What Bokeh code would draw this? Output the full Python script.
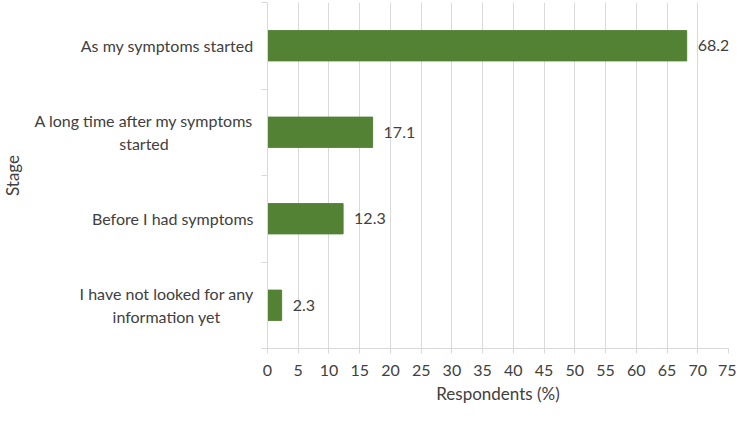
import math
from bokeh.plotting import figure
from bokeh.layouts import row
from bokeh.models import ColumnDataSource, FixedTicker, Range1d, LabelSet, Label
from bokeh.core.properties import value
from bokeh.embed import file_html
from bokeh.resources import INLINE

categories = ["As my symptoms started",
              "A long time after my symptoms\nstarted",
              "Before I had symptoms",
              "I have not looked for any\ninformation yet"]
values = [68.2, 17.1, 12.3, 2.3]
x_ticks = list(range(0, 80, 5))
x_title = "Respondents (%)"
y_title = "Stage"

n = len(categories)
ypos = [n - i - 0.5 for i in range(n)]
src = ColumnDataSource(dict(y=ypos, v=values, lab=[f"{v:.1f}" for v in values]))

FONT = "Lato"
TXT = "#404040"
GRID = "#d9d9d9"
FS = "16px"
TFS = "17px"
W = 736
H = 416
TOP = 2
BOTTOM = 68
LEFT_W = 257

yr = Range1d(0, n)

# ---- left panel holding the category labels and the y title ----
lp = figure(width=LEFT_W, height=H, output_backend="svg", toolbar_location=None,
            x_range=Range1d(0, 1), y_range=yr,
            min_border_left=0, min_border_right=0, min_border_top=TOP,
            min_border_bottom=BOTTOM)
lp.outline_line_color = None
lp.xaxis.visible = False
lp.yaxis.visible = False
lp.xgrid.visible = False
lp.ygrid.visible = False
for y, c in zip(ypos, categories):
    lp.add_layout(Label(x=1, y=y, text=c, x_offset=-4, anchor="center_right",
                        text_align="center", text_baseline="middle",
                        text_font=FONT, text_font_size=FS, text_color=TXT,
                        text_line_height=1.2))
lp.add_layout(Label(x=0, y=n / 2, text=y_title, x_offset=1, angle=math.pi / 2,
                    text_align="center", text_baseline="top",
                    text_font=FONT, text_font_size=TFS, text_color=TXT))

# ---- main chart ----
p = figure(width=W - LEFT_W, height=H, output_backend="svg", toolbar_location=None,
           x_range=Range1d(0, 75), y_range=yr,
           min_border_left=10, min_border_right=8, min_border_top=TOP,
           min_border_bottom=BOTTOM)
p.outline_line_color = None
p.hbar(y="y", right="v", left=0, height=0.35, source=src, color="#548235")
p.add_layout(LabelSet(x="v", y="y", text="lab", source=src, x_offset=11,
                      text_baseline="middle", text_font=value(FONT), text_font_size=FS,
                      text_color=TXT))

p.xaxis.ticker = FixedTicker(ticks=x_ticks)
p.xaxis.axis_line_color = GRID
p.xaxis.major_tick_line_color = GRID
p.xaxis.major_tick_out = 5
p.xaxis.major_tick_in = 0
p.xaxis.minor_tick_line_color = None
p.xaxis.major_label_text_font = FONT
p.xaxis.major_label_text_font_size = FS
p.xaxis.major_label_text_color = TXT
p.xaxis.major_label_standoff = 11
p.xaxis.axis_label = x_title
p.xaxis.axis_label_text_font = FONT
p.xaxis.axis_label_text_font_size = TFS
p.xaxis.axis_label_text_font_style = "normal"
p.xaxis.axis_label_text_color = TXT
p.xaxis.axis_label_standoff = 4

# y axis: only the line and tick marks at the category boundaries
p.yaxis.ticker = FixedTicker(ticks=[], minor_ticks=list(range(n + 1)))
p.yaxis.axis_line_color = GRID
p.yaxis.major_tick_line_color = None
p.yaxis.minor_tick_line_color = GRID
p.yaxis.minor_tick_out = 6
p.yaxis.minor_tick_in = 0
p.yaxis.major_label_standoff = 0

p.xgrid.ticker = FixedTicker(ticks=x_ticks)
p.xgrid.grid_line_color = GRID
p.ygrid.grid_line_color = None

layout = row(lp, p, spacing=0)
open("out.html", "w").write(file_html(layout, INLINE))
